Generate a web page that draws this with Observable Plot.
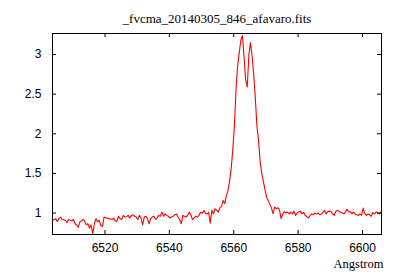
<!DOCTYPE html>
<html>
<head>
<meta charset="utf-8">
<script src="https://cdn.jsdelivr.net/npm/d3@7"></script>
<script src="https://cdn.jsdelivr.net/npm/@observablehq/plot@0.6"></script>
<style>
  html, body { margin: 0; padding: 0; background: #fff; }
  #chart svg { display: block; }
</style>
</head>
<body>
<div id="chart"></div>
<script>
const title = "_fvcma_20140305_846_afavaro.fits";
const xLabel = "Angstrom";
const xTicks = [6520, 6540, 6560, 6580, 6600];
const yTicks = [1, 1.5, 2, 2.5, 3];
const xDomain = [6503.7, 6605.9];
const yDomain = [0.73, 3.265];
// spectrum sampling: start wavelength and dispersion (Angstrom per pixel)
const lambdaStart = 6503.7;
const lambdaStep = 0.5;
const flux = [
  0.91, 0.92, 0.93, 0.895, 0.93, 0.95, 0.92, 0.917, 0.91, 0.88,
  0.92, 0.91, 0.90, 0.92, 0.866, 0.85, 0.82, 0.89, 0.90, 0.92,
  0.895, 0.853, 0.866, 0.81, 0.853, 0.74, 0.866, 0.93, 0.89, 0.91,
  0.845, 0.83, 0.95, 0.94, 0.937, 0.93, 0.925, 0.92, 0.937, 0.90,
  0.895, 0.96, 0.93, 0.92, 0.971, 0.95, 0.955, 0.971, 0.937, 0.971,
  0.98, 0.96, 0.95, 0.92, 0.971, 0.937, 0.853, 0.95, 0.96, 0.93,
  0.866, 0.93, 0.95, 0.96, 0.92, 0.937, 0.971, 0.96, 1.013, 0.96,
  0.99, 0.97, 0.96, 0.937, 0.95, 0.96, 0.98, 0.99, 0.95, 0.92,
  0.866, 0.971, 0.96, 0.95, 0.975, 1.013, 0.97, 0.917, 0.94, 0.958,
  0.95, 0.97, 1.01, 0.998, 1.034, 1.0, 0.99, 1.01, 0.874, 1.034,
  0.99, 1.055, 1.034, 1.013, 1.068, 1.085, 1.16, 1.12, 1.22, 1.28,
  1.40, 1.56, 1.80, 2.10, 2.55, 2.85, 3.02, 3.18, 3.24, 2.97,
  2.68, 2.59, 3.0, 3.15, 2.98, 2.75, 2.45, 2.10, 1.92, 1.65,
  1.50, 1.40, 1.30, 1.20, 1.16, 1.11, 1.068, 0.99, 1.076, 1.055,
  1.068, 1.043, 0.93, 0.985, 1.02, 1.0, 1.013, 0.99, 1.013, 0.99,
  1.025, 0.97, 1.0, 1.013, 1.025, 0.99, 1.013, 0.97, 0.958, 0.94,
  0.97, 0.99, 0.98, 1.0, 0.99, 1.0, 0.98, 0.985, 1.013, 1.034,
  0.99, 1.02, 1.025, 1.02, 0.99, 0.97, 1.02, 1.034, 1.025, 1.005,
  1.005, 0.99, 1.013, 1.047, 1.013, 1.02, 0.99, 1.013, 0.99, 0.98,
  0.97, 0.99, 0.97, 1.063, 0.99, 0.97, 0.99, 0.98, 0.96, 1.005,
  0.99, 1.013, 1.005, 0.99, 1.013
];

const data = flux.map((f, i) => ({lambda: lambdaStart + i * lambdaStep, flux: f}));

const W = 400, H = 280;
const mL = 52, mR = 19, mT = 33, mB = 46;
const innerW = W - mL - mR, innerH = H - mT - mB;
const tickLen = 4;
const sans = "'Liberation Sans', Arial, sans-serif";
const serif = "'Liberation Serif', 'Times New Roman', serif";

const plot = Plot.plot({
  width: W,
  height: H,
  marginLeft: mL,
  marginRight: mR,
  marginTop: mT,
  marginBottom: mB,
  style: {background: "#fff", color: "#000", fontFamily: sans, fontSize: "12px"},
  x: {domain: xDomain, label: null},
  y: {domain: yDomain, label: null},
  marks: [
    Plot.line(data, {x: "lambda", y: "flux", stroke: "#ff0000", strokeWidth: 1.1, clip: true}),
    // inward ticks on all four sides (gnuplot style)
    Plot.ruleX(xTicks, {stroke: "#000", insetTop: innerH - tickLen}),
    Plot.ruleX(xTicks, {stroke: "#000", insetBottom: innerH - tickLen}),
    Plot.ruleY(yTicks, {stroke: "#000", insetRight: innerW - tickLen}),
    Plot.ruleY(yTicks, {stroke: "#000", insetLeft: innerW - tickLen}),
    Plot.frame({stroke: "#000", strokeWidth: 1}),
    Plot.axisX({ticks: xTicks, tickSize: 0, tickPadding: 9, tickFormat: d => String(d), fontSize: 12, fontFamily: sans, label: null}),
    Plot.axisY({ticks: yTicks, tickSize: 0, tickPadding: 11, tickFormat: d => String(d), fontSize: 12, fontFamily: sans, label: null}),
    Plot.text([title], {frameAnchor: "top", lineAnchor: "bottom", dy: -10.5, fontSize: 13, fontFamily: serif, fill: "#000"}),
    Plot.text([xLabel], {frameAnchor: "bottom-right", textAnchor: "end", lineAnchor: "bottom", dx: 2, dy: 33, fontSize: 12.5, fontFamily: serif, fill: "#000"})
  ]
});
document.getElementById("chart").appendChild(plot);
</script>
</body>
</html>
